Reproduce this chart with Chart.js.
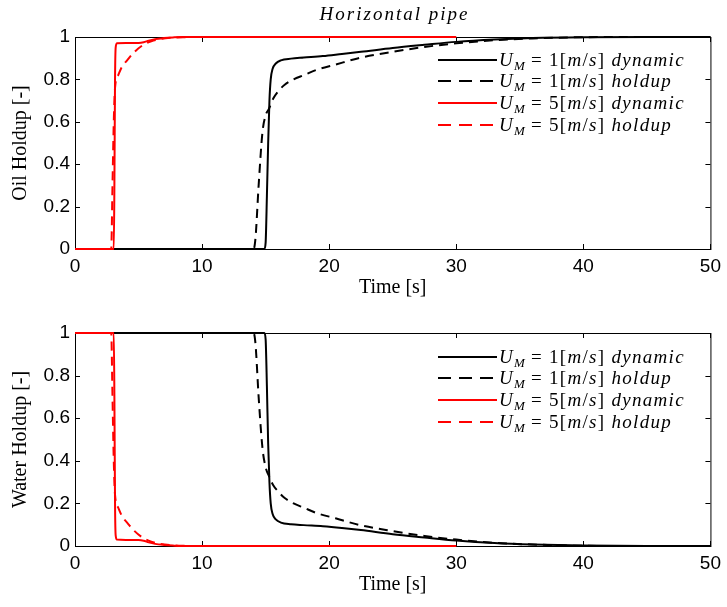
<!DOCTYPE html>
<html>
<head>
<meta charset="utf-8">
<title>Horizontal pipe</title>
<script src="https://cdn.jsdelivr.net/npm/chart.js@4.4.1/dist/chart.umd.min.js"></script>
<style>
    body { margin: 0; background: #fff; }
    #page { position: relative; width: 727px; height: 607px; overflow: hidden; }
    canvas { position: absolute; left: 0; }
    #oilChart { top: 0; }
    #waterChart { top: 300px; }
    #title {
        position: absolute; left: 75px; width: 639px; top: 3px;
        text-align: center; line-height: 22px;
        font: italic 19px 'Liberation Serif', serif; letter-spacing: 2px;
    }
    .legend {
        position: absolute; left: 436px;
        font: italic 19px 'Liberation Serif', serif; letter-spacing: 1.3px; color: #000;
    }
    .legend .row { display: flex; align-items: center; height: 21.6px; white-space: nowrap; }
    .legend svg { width: 62px; height: 12px; margin-right: 1px; flex: none; }
    .legend .r { font-style: normal; }
    .legend sub { font-size: 13px; vertical-align: -4px; line-height: 0; letter-spacing: 0; }
</style>
</head>
<body>
<div id="page">
    <canvas id="oilChart" width="727" height="300"></canvas>
    <canvas id="waterChart" width="727" height="307"></canvas>
    <div id="title">Horizontal pipe</div>
    <div class="legend" id="oilLegend" style="top: 49px;"></div>
    <div class="legend" id="waterLegend" style="top: 346px;"></div>
</div>
<script>
// Оси
const xTicks = [0, 10, 20, 30, 40, 50];
const yTicks = [0, 0.2, 0.4, 0.6, 0.8, 1];

// Легенда
const legendSpeeds = [1, 1, 5, 5];
const legendKinds = ['dynamic', 'holdup', 'dynamic', 'holdup'];

// Нефть, U_M = 1 м/с
const tOilU1Dyn = [0, 14.9, 15.0, 15.1, 15.2, 15.3, 15.4, 15.55, 15.8, 16.2, 17, 18, 19.5, 21, 22.5, 25, 27.5, 30, 33, 36, 40, 45, 50];
const oilU1Dyn = [0, 0, 0.03, 0.25, 0.5, 0.7, 0.8, 0.85, 0.875, 0.89, 0.898, 0.903, 0.91, 0.92, 0.93, 0.948, 0.963, 0.977, 0.988, 0.995, 0.999, 1, 1];
const tOilU1Hold = [0, 14.05, 14.2, 14.45, 14.75, 15.0, 15.25, 15.6, 16.0, 16.5, 17.2, 18, 19, 20.5, 22.3, 25, 27.5, 30, 33, 36, 40, 45, 50];
const oilU1Hold = [0, 0, 0.05, 0.3, 0.55, 0.63, 0.66, 0.71, 0.745, 0.775, 0.8, 0.82, 0.845, 0.87, 0.9, 0.93, 0.953, 0.97, 0.985, 0.993, 0.999, 1, 1];

// Нефть, U_M = 5 м/с
const tOilU5Dyn = [0, 3.05, 3.1, 3.15, 3.2, 3.3, 4, 5, 5.4, 5.8, 6.3, 7, 7.7, 8.5, 10, 30];
const oilU5Dyn = [0, 0, 0.3, 0.8, 0.95, 0.97, 0.972, 0.972, 0.975, 0.983, 0.99, 0.995, 0.998, 1, 1, 1];
const tOilU5Hold = [0, 2.85, 2.95, 3.05, 3.15, 3.4, 3.7, 4.1, 4.6, 5.3, 6, 6.7, 7.5, 8.5, 10, 30];
const oilU5Hold = [0, 0, 0.3, 0.6, 0.76, 0.82, 0.86, 0.89, 0.925, 0.96, 0.98, 0.99, 0.996, 0.999, 1, 1];

// Вода, U_M = 1 м/с
const tWatU1Dyn = [0, 14.9, 15.0, 15.1, 15.2, 15.3, 15.4, 15.55, 15.8, 16.2, 17, 18, 19.5, 21, 22.5, 25, 27.5, 30, 33, 36, 40, 45, 50];
const watU1Dyn = [1, 1, 0.97, 0.75, 0.48, 0.3, 0.2, 0.15, 0.125, 0.11, 0.102, 0.098, 0.093, 0.085, 0.075, 0.055, 0.04, 0.026, 0.014, 0.007, 0.002, 0, 0];
const tWatU1Hold = [0, 14.05, 14.2, 14.45, 14.75, 15.0, 15.25, 15.6, 16.0, 16.5, 17.2, 18, 19, 20.5, 22.3, 25, 27.5, 30, 33, 36, 40, 45, 50];
const watU1Hold = [1, 1, 0.95, 0.7, 0.46, 0.37, 0.33, 0.285, 0.255, 0.225, 0.2, 0.18, 0.155, 0.13, 0.1, 0.07, 0.047, 0.03, 0.015, 0.007, 0.001, 0, 0];

// Вода, U_M = 5 м/с
const tWatU5Dyn = [0, 3.05, 3.1, 3.15, 3.2, 3.3, 4, 5, 5.4, 5.8, 6.3, 7, 7.7, 8.5, 10, 30];
const watU5Dyn = [1, 1, 0.7, 0.2, 0.05, 0.03, 0.028, 0.028, 0.025, 0.017, 0.01, 0.005, 0.002, 0, 0, 0];
const tWatU5Hold = [0, 2.85, 2.95, 3.05, 3.15, 3.4, 3.7, 4.1, 4.6, 5.3, 6, 6.7, 7.5, 8.5, 10, 30];
const watU5Hold = [1, 1, 0.7, 0.4, 0.24, 0.18, 0.14, 0.11, 0.075, 0.04, 0.02, 0.01, 0.004, 0.001, 0, 0];

// Стили линий
const lineColors = ['#000000', '#000000', '#ff0000', '#ff0000'];
const lineDashes = [[], [9, 6], [], [9, 6]];
const legendDashes = ['none', '13 8', 'none', '13 8'];

const tickFont = { family: "'Liberation Sans', Arial, sans-serif", size: 19 };
const axisFont = { family: "'Liberation Serif', serif", size: 20 };

// Рамка и внутренние риски (как в Matlab)
const framePlugin = {
    id: 'frame',
    beforeDatasetsDraw(chart) {
        const { ctx, chartArea: a, scales: { x, y } } = chart;
        ctx.save();
        ctx.strokeStyle = '#000';
        ctx.lineWidth = 1;
        ctx.strokeRect(a.left + 0.5, a.top + 0.5, a.right - a.left, a.bottom - a.top);
        ctx.beginPath();
        xTicks.forEach(v => {
            const px = Math.round(x.getPixelForValue(v)) + 0.5;
            ctx.moveTo(px, a.bottom); ctx.lineTo(px, a.bottom - 5);
            ctx.moveTo(px, a.top); ctx.lineTo(px, a.top + 5);
        });
        yTicks.forEach(v => {
            const py = Math.round(y.getPixelForValue(v)) + 0.5;
            ctx.moveTo(a.left, py); ctx.lineTo(a.left + 5, py);
            ctx.moveTo(a.right, py); ctx.lineTo(a.right - 5, py);
        });
        ctx.stroke();
        ctx.restore();
    }
};

function makeChart(canvasId, yTitle, series, padTop, padBottom) {
    const datasets = series.map((s, i) => ({
        label: legendKinds[i],
        data: s[0].map((t, k) => ({ x: t, y: s[1][k] })),
        borderColor: lineColors[i],
        borderDash: lineDashes[i],
        borderWidth: 2,
        pointRadius: 0,
        cubicInterpolationMode: 'monotone',
        fill: false,
        clip: false,
        order: 3 - i
    }));

    return new Chart(document.getElementById(canvasId), {
        type: 'line',
        data: { datasets },
        options: {
            responsive: false,
            animation: false,
            layout: { padding: { top: padTop, right: 13, bottom: padBottom, left: 0 } },
            plugins: { legend: { display: false }, tooltip: { enabled: false } },
            scales: {
                x: {
                    type: 'linear', min: 0, max: 50,
                    afterFit: s => { s.height = 51; },
                    afterBuildTicks: s => { s.ticks = xTicks.map(v => ({ value: v })); },
                    grid: { display: false, drawTicks: false },
                    border: { display: false },
                    ticks: { padding: 6, color: '#000', font: tickFont, maxRotation: 0, callback: v => String(v) },
                    title: { display: true, text: 'Time [s]', color: '#000', font: axisFont, padding: { top: 0, bottom: 0 } }
                },
                y: {
                    type: 'linear', min: 0, max: 1,
                    afterFit: s => { s.width = 75; },
                    afterBuildTicks: s => { s.ticks = yTicks.map(v => ({ value: v })); },
                    grid: { display: false, drawTicks: false },
                    border: { display: false },
                    ticks: { padding: 5, color: '#000', font: tickFont, callback: v => String(v) },
                    title: { display: true, text: yTitle, color: '#000', font: axisFont, padding: { top: 9, bottom: 0 } }
                }
            }
        },
        plugins: [framePlugin]
    });
}

// HTML-легенда с подстрочным индексом
function buildLegend(id) {
    document.getElementById(id).innerHTML = legendSpeeds.map((u, i) => `
        <div class="row">
            <svg viewBox="0 0 62 12"><line x1="2" y1="6" x2="61" y2="6" stroke="${lineColors[i]}" stroke-width="2" stroke-dasharray="${legendDashes[i]}"/></svg>
            <span><i>U</i><sub>M</sub> <span class="r">= ${u}[</span>m<span class="r">/</span>s<span class="r">]</span> ${legendKinds[i]}</span>
        </div>`).join('');
}

makeChart('oilChart', 'Oil Holdup [-]', [
    [tOilU1Dyn, oilU1Dyn], [tOilU1Hold, oilU1Hold], [tOilU5Dyn, oilU5Dyn], [tOilU5Hold, oilU5Hold]
], 37, 0);

makeChart('waterChart', 'Water Holdup [-]', [
    [tWatU1Dyn, watU1Dyn], [tWatU1Hold, watU1Hold], [tWatU5Dyn, watU5Dyn], [tWatU5Hold, watU5Hold]
], 33, 10);

buildLegend('oilLegend');
buildLegend('waterLegend');
</script>
</body>
</html>
